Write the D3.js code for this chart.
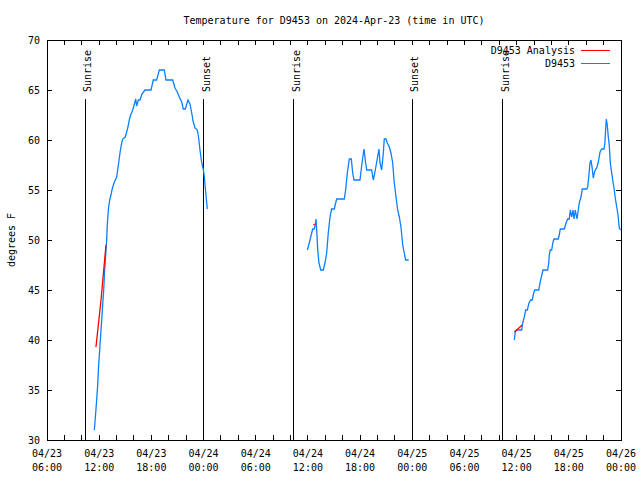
<!DOCTYPE html>
<html>
<head>
<meta charset="utf-8">
<script src="https://cdn.jsdelivr.net/npm/d3@7"></script>
<style>
  html, body { margin: 0; padding: 0; background: #fff; }
  svg { display: block; }
  text { font-family: "DejaVu Sans Mono", "Liberation Mono", monospace; font-size: 10px; fill: #000; }
</style>
</head>
<body>
<svg id="chart" width="640" height="480"></svg>
<script>
// ---- DATA (times are hours after 2024-04-23 00:00 UTC) ----
const titleText = "Temperature for D9453 on 2024-Apr-23 (time in UTC)";
const yLabel = "degrees F";
const yTicks = [30, 35, 40, 45, 50, 55, 60, 65, 70];
const xStartHour = 6;   // 04/23 06:00
const xEndHour = 72;    // 04/26 00:00
const sunriseHours = [10.37, 34.40, 58.43];
const sunsetHours = [24.05, 47.97];

// D9453 observations (null = gap)
const obsHours = [
  11.44, 11.58, 11.71, 11.83, 11.94, 12.06, 12.17, 12.29, 12.40, 12.52, 12.63, 12.75, 12.86, 12.93, 13.05, 13.21,
  13.36, 13.47, 13.70, 14.01, 14.24, 14.39, 14.54, 14.70, 15.00, 15.16, 15.31, 15.46, 15.62, 15.77, 15.92, 16.08,
  16.20, 16.31, 16.50, 16.69, 16.92, 17.27, 17.96, 18.22, 18.61, 18.91, 19.49, 19.68, 20.45, 20.72, 20.98, 21.21,
  21.49, 21.67, 21.90, 22.21, 22.44, 22.64, 22.82, 23.02, 23.28, 23.44, 23.59, 23.74, 23.90, 23.99, 24.11, 24.17,
  24.28, 24.43,
  30.00,
  35.93, 36.16, 36.32, 36.55, 36.73, 36.85, 36.93, 37.01, 37.13, 37.27, 37.47, 37.77, 37.96, 38.16, 38.34, 38.54,
  38.73, 39.03, 39.19, 39.31, 40.18, 40.34, 40.53, 40.76, 40.99, 41.15, 41.30, 41.99, 42.22, 42.45, 42.64, 42.76,
  43.33, 43.52, 43.71, 43.91, 44.17, 44.29, 44.48, 44.67, 44.78, 44.98, 45.13, 45.36, 45.55, 45.75, 45.93, 46.13,
  46.32, 46.51, 46.70, 46.90, 47.08, 47.24, 47.59,
  53.00,
  59.73, 59.85, 60.01, 60.58, 60.70, 60.88, 61.04, 61.23, 61.42, 61.62, 61.80, 61.96, 62.08, 62.54, 62.69, 62.84,
  63.03, 63.57, 63.69, 63.75, 63.87, 64.03, 64.18, 64.30, 64.79, 64.90, 65.02, 65.48, 65.68, 65.87, 66.05, 66.17,
  66.33, 66.48, 66.60, 66.74, 66.94, 67.09, 67.20, 67.40, 67.55, 68.06, 68.17, 68.29, 68.44, 68.55, 68.67, 68.81,
  68.93, 69.04, 69.21, 69.39, 69.59, 69.78, 70.05, 70.16, 70.24, 70.31, 70.42, 70.54, 70.65, 70.77, 70.93, 71.08,
  71.23, 71.34, 71.51, 71.66, 71.80, 71.95
];
const obsTemps = [
  31, 32.5, 34, 35.5, 37.5, 39, 40.5, 42, 43.5, 45, 47, 48.5, 50, 51.5, 53, 54,
  54.5, 55, 55.7, 56.3, 57.7, 58.7, 59.5, 60.1, 60.3, 60.8, 61.3, 62, 62.5, 62.8, 63.2, 63.7,
  64.1, 63.4, 64, 64, 64.6, 65, 65, 66, 66, 67, 67, 66, 66, 65.2, 64.8, 64.3,
  63.8, 63.1, 63.1, 64, 63.6, 62.7, 61.8, 61.2, 61, 60.2, 59, 58, 57.3, 57, 56.2, 55.5,
  54.5, 53.1,
  null,
  49, 49.7, 50.3, 51.1, 51.1, 51.5, 52.1, 51, 49, 47.7, 47, 47, 47.7, 48.7, 50.7, 52.3,
  53.1, 53.1, 53.7, 54.1, 54.1, 55, 56.7, 58.1, 58.1, 56.7, 56, 56, 57.7, 59.1, 57.7, 57,
  57, 56, 56.8, 57.8, 59.1, 57.7, 57, 58.7, 60.1, 60.1, 59.7, 59.3, 58.7, 57.7, 55.7, 54.3,
  53, 52.3, 51.3, 49.5, 48.7, 48, 48,
  null,
  40, 40.8, 41, 41, 41.7, 42.3, 43, 43, 43.7, 44, 44, 44.7, 45, 45, 45.7, 46.3,
  47, 47, 47.7, 48.5, 49, 49, 49.8, 50.1, 50.1, 50.5, 51.1, 51.1, 51.7, 52.1, 52.1, 53,
  52.3, 53, 52.1, 53, 52.1, 53, 53.7, 54.3, 55.1, 55.1, 55.3, 56.3, 57.7, 58, 57.3, 56.2,
  56.7, 57, 57.2, 57.8, 58.8, 59.1, 59.1, 59.8, 61.2, 62.1, 61.5, 60.3, 59.5, 57.7, 56.7, 55.8,
  55, 54.2, 53.3, 52.5, 51.2, 51
];

// D9453 Analysis (null = gap)
const anaHours = [11.63, 12.21, 12.78, 30.00, 36.64, 36.79, 53.00, 59.73, 60.65];
const anaTemps = [39.3, 44.0, 49.5, null, 51.5, 51.6, null, 40.8, 41.5];

const seriesNames = ["D9453 Analysis", "D9453"];
const seriesColors = ["#ff0000", "#0a80ff"];

// ---- CHART ----
const base = Date.UTC(2024, 3, 23, 0, 0, 0);
const toDate = h => new Date(base + h * 3600e3);

const svg = d3.select("#chart");
const W = 640, H = 480;
const m = { left: 47, right: 19, top: 40, bottom: 40 };
const x = d3.scaleUtc().domain([toDate(xStartHour), toDate(xEndHour)]).range([m.left, W - m.right]);
const y = d3.scaleLinear().domain([30, 70]).range([H - m.bottom, m.top]);

const majorTicks = d3.range(xStartHour, xEndHour + 0.01, 6).map(toDate);
const minorTicks = d3.range(xStartHour, xEndHour + 0.01, 2).map(toDate);
const fmtDay = d3.utcFormat("%m/%d");
const fmtHM = d3.utcFormat("%H:%M");

// title
svg.append("text").attr("x", (m.left + W - m.right) / 2).attr("y", 24)
  .attr("text-anchor", "middle").text(titleText);

// y label
svg.append("text").attr("transform", `translate(15,${(m.top + H - m.bottom) / 2}) rotate(-90)`)
  .attr("text-anchor", "middle").text(yLabel);

const g = svg.append("g").attr("shape-rendering", "crispEdges");

// ticks bottom / top
const tl = 5;
g.selectAll("line.xb").data(minorTicks).join("line")
  .attr("x1", d => x(d)).attr("x2", d => x(d))
  .attr("y1", H - m.bottom).attr("y2", H - m.bottom - tl).attr("stroke", "#000");
g.selectAll("line.xt").data(minorTicks).join("line").attr("class", "xt")
  .attr("x1", d => x(d)).attr("x2", d => x(d))
  .attr("y1", m.top).attr("y2", m.top + tl).attr("stroke", "#000");
// y ticks left/right
g.selectAll("line.yl").data(yTicks).join("line").attr("class", "yl")
  .attr("x1", m.left).attr("x2", m.left + tl)
  .attr("y1", d => y(d)).attr("y2", d => y(d)).attr("stroke", "#000");
g.selectAll("line.yr").data(yTicks).join("line").attr("class", "yr")
  .attr("x1", W - m.right).attr("x2", W - m.right - tl)
  .attr("y1", d => y(d)).attr("y2", d => y(d)).attr("stroke", "#000");

// y tick labels
svg.selectAll("text.yt").data(yTicks).join("text").attr("class", "yt")
  .attr("x", 40).attr("y", d => y(d)).attr("dy", "0.35em")
  .attr("text-anchor", "end").text(d => d);

// x tick labels
const xl = svg.selectAll("text.xtl").data(majorTicks).join("text").attr("class", "xtl")
  .attr("text-anchor", "middle");
xl.append("tspan").attr("x", d => x(d)).attr("y", 457).text(d => fmtDay(d));
xl.append("tspan").attr("x", d => x(d)).attr("y", 471).text(d => fmtHM(d));

// sunrise / sunset lines
const events = sunriseHours.map(h => ({ h, label: "Sunrise" }))
  .concat(sunsetHours.map(h => ({ h, label: "Sunset" })));
g.selectAll("line.ev").data(events).join("line").attr("class", "ev")
  .attr("x1", d => x(toDate(d.h))).attr("x2", d => x(toDate(d.h)))
  .attr("y1", H - m.bottom).attr("y2", 99).attr("stroke", "#000");
svg.selectAll("text.ev").data(events).join("text").attr("class", "ev")
  .attr("transform", d => `translate(${x(toDate(d.h)) + 6},92) rotate(-90)`)
  .attr("text-anchor", "start").text(d => d.label);

// lines
const lineGen = d3.line()
  .defined(d => d.t !== null)
  .x(d => x(toDate(d.h))).y(d => y(d.t));
const obs = obsHours.map((h, i) => ({ h, t: obsTemps[i] }));
const ana = anaHours.map((h, i) => ({ h, t: anaTemps[i] }));
svg.append("path").datum(obs).attr("d", lineGen).attr("fill", "none")
  .attr("stroke", seriesColors[1]).attr("stroke-width", 1.3);
svg.append("path").datum(ana).attr("d", lineGen).attr("fill", "none")
  .attr("stroke", seriesColors[0]).attr("stroke-width", 1.3);

// frame
g.append("rect").attr("x", m.left).attr("y", m.top)
  .attr("width", W - m.left - m.right).attr("height", H - m.top - m.bottom)
  .attr("fill", "none").attr("stroke", "#000");

// legend
seriesNames.forEach((name, i) => {
  const ly = 50 + i * 13;
  svg.append("text").attr("x", 575).attr("y", ly).attr("dy", "0.35em")
    .attr("text-anchor", "end").text(name);
  g.append("line").attr("x1", 581).attr("x2", 610).attr("y1", ly).attr("y2", ly)
    .attr("stroke", seriesColors[i]);
});
</script>
</body>
</html>
